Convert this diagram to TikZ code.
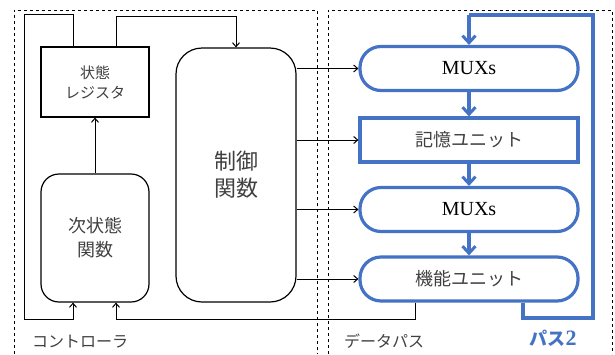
\documentclass[tikz,border=0pt]{standalone}
\usepackage{fontspec}
\setmainfont{Liberation Serif}
\newfontfamily\cjk{Noto Sans CJK JP}
\usetikzlibrary{arrows.meta}
\definecolor{pblue}{RGB}{68,114,196}
\definecolor{jgray}{RGB}{64,64,64}
\tikzset{
  dashbox/.style={dashed,line width=0.7pt,black},
  blk/.style={draw,line width=1.2pt,black,text=jgray,align=center,inner sep=0pt},
  dpbox/.style={draw=pblue,line width=3.2pt,minimum width=218pt,minimum height=44pt,inner sep=0pt,align=center},
  blarrow/.style={draw=pblue,line width=3.2pt,-{Straight Barb[length=7pt,width=13pt,line width=3pt]}},
  bline/.style={draw=pblue,line width=3.2pt,line join=miter},
  carrow/.style={line width=1pt,-{Straight Barb[length=4pt,width=7pt,line width=1pt]}},
  jtext/.style={text=jgray,font=\cjk\fontsize{16}{20}\selectfont},
}
\begin{document}
\begin{tikzpicture}[x=1pt,y=-1pt]
\useasboundingbox (0,0) rectangle (615,354);
% dashed regions
\draw[dashbox] (14,354) -- (14,10) -- (317,10) -- (317,354);
\draw[dashbox] (328,354) -- (328,10) -- (612,10) -- (612,354);
% controller blocks
\node[blk,minimum width=108pt,minimum height=70pt,font=\cjk\fontsize{15}{20}\selectfont] (sreg) at (95,82) {状態\\レジスタ};
\node[blk,rounded corners=18pt,minimum width=108pt,minimum height=128pt,font=\cjk\fontsize{18}{24}\selectfont] (nsf) at (95,238) {次状態\\関数};
\node[blk,rounded corners=26pt,minimum width=120pt,minimum height=254pt,font=\cjk\fontsize{22}{27}\selectfont] (ctrl) at (236,175) {制御\\関数};
% datapath blocks
\node[dpbox,rounded corners=21pt,font=\fontsize{20}{24}\selectfont] (mux1) at (469,68.5) {MUXs};
\node[dpbox,font=\cjk\fontsize{18}{22}\selectfont,text=jgray] (mem) at (469,140) {記憶ユニット};
\node[dpbox,rounded corners=21pt,font=\fontsize{20}{24}\selectfont] (mux2) at (469,209.5) {MUXs};
\node[dpbox,rounded corners=21pt,font=\cjk\fontsize{18}{22}\selectfont,text=jgray] (fu) at (469,279) {機能ユニット};
% labels
\node[jtext] (lc) at (80,342) {コントローラ};
\node[jtext] (ld) at (384,341) {データパス};
\node[text=pblue,inner sep=0pt] (lp) at (553,338) {{\cjk\bfseries\fontsize{18}{22}\selectfont パス}{\bfseries\fontsize{22}{22}\selectfont 2}};
% controller connectors
\coordinate (a1) at (73,14);
\coordinate (a2) at (24,14);
\coordinate (a3) at (24,319);
\coordinate (a4) at (73,319);
\draw[carrow] ([xshift=-22pt]sreg.north) -- (a1) -- (a2) -- (a3) -- (a4) -- ([xshift=-22pt]nsf.south);
\coordinate (b1) at (116,16);
\coordinate (b2) at (236,16);
\draw[carrow] ([xshift=21pt]sreg.north) -- (b1) -- (b2) -- (ctrl.north);
\draw[carrow] (nsf.north) -- (sreg.south);
\draw[carrow] (ctrl.east |- mux1.west) -- (mux1.west);
\draw[carrow] (ctrl.east |- mem.west) -- (mem.west);
\draw[carrow] (ctrl.east |- mux2.west) -- (mux2.west);
\draw[carrow] (ctrl.east |- fu.west) -- (fu.west);
\coordinate (c1) at (415,319);
\coordinate (c2) at (116,319);
\draw[carrow] ([xshift=-54pt]fu.south) -- (c1) -- (c2) -- ([xshift=21pt]nsf.south);
% datapath connectors
\draw[blarrow] (mux1.south) -- (mem.north);
\draw[blarrow] (mem.south) -- (mux2.north);
\draw[blarrow] (mux2.south) -- (fu.north);
\coordinate (d1) at (523,318);
\coordinate (d2) at (593,318);
\coordinate (d3) at (593,15);
\coordinate (d4) at (469,15);
\draw[bline] ([xshift=54pt]fu.south) -- (d1) -- (d2) -- (d3) -- (d4);
\draw[blarrow] (d4) -- (mux1.north);
\end{tikzpicture}
\end{document}
